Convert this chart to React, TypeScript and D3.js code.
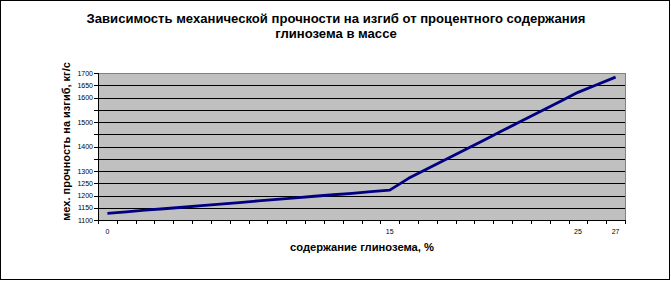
import React from "react";
import * as d3 from "d3";

const title1 = "Зависимость механической прочности на изгиб от процентного содержания";
const title2 = "глинозема в массе";
const yTitle = "мех. прочность на изгиб, кг/с";
const xTitle = "содержание глинозема, %";

const categories = [0, 1, 2, 3, 4, 5, 6, 7, 8, 9, 10, 11, 12, 13, 14, 15, 16, 17, 18, 19, 20, 21, 22, 23, 24, 25, 26, 27];
const values = [1127, 1133, 1140, 1146, 1152, 1159, 1165, 1171, 1178, 1184, 1190, 1197, 1203, 1209, 1216, 1222, 1270, 1309, 1348, 1387, 1426, 1465, 1504, 1543, 1582, 1621, 1652, 1683];
const xTickLabels = [0, 15, 25, 27];
const yGridValues = [1100, 1150, 1200, 1250, 1300, 1350, 1400, 1450, 1500, 1550, 1600, 1650, 1700];
const yTickLabels = [1100, 1150, 1200, 1250, 1300, 1400, 1500, 1600, 1650, 1700];

const W = 671;
const H = 281;
const L = 98;
const R = 625;
const T = 73;
const B = 220;

export default function App() {
  const x = d3.scaleBand<number>().domain(categories).range([L, R]).padding(0);
  const y = d3.scaleLinear().domain([1100, 1700]).range([B, T]);
  const bw = x.bandwidth();
  const cx = (c: number) => (x(c) as number) + bw / 2;
  const line = d3
    .line<number>()
    .x((_, i) => cx(categories[i]))
    .y((v) => y(v));
  const snap = (v: number) => Math.round(v) + 0.5;
  const font = "'Liberation Sans', Arial, sans-serif";
  const boundaries = categories.map((c) => x(c) as number).concat([R]);

  return (
    <svg width={W} height={H} style={{ position: "absolute", left: 0, top: 0 }} fontFamily={font}>
      <rect x={0} y={0} width={W} height={H} fill="#fff" />
      <rect x={0.5} y={0.5} width={669} height={279} fill="none" stroke="#000" strokeWidth={1} />
      <text x={336} y={23} textAnchor="middle" fontSize={13.1} fontWeight="bold">{title1}</text>
      <text x={336} y={38} textAnchor="middle" fontSize={13.1} fontWeight="bold">{title2}</text>

      <rect x={L} y={T} width={R - L} height={B - T} fill="#C0C0C0" stroke="#808080" strokeWidth={1} shapeRendering="crispEdges" />
      {yGridValues.filter((v) => v > 1100 && v < 1700).map((v) => (
        <line key={"g" + v} x1={L} x2={R} y1={snap(y(v))} y2={snap(y(v))} stroke="#000" strokeWidth={1} shapeRendering="crispEdges" />
      ))}
      <line x1={L + 0.5} x2={L + 0.5} y1={T} y2={B + 0.5} stroke="#000" shapeRendering="crispEdges" />
      <line x1={L} x2={R + 0.5} y1={B + 0.5} y2={B + 0.5} stroke="#000" shapeRendering="crispEdges" />
      {yGridValues.map((v) => (
        <line key={"yt" + v} x1={L - 4} x2={L} y1={snap(y(v))} y2={snap(y(v))} stroke="#000" shapeRendering="crispEdges" />
      ))}
      {yTickLabels.map((v) => (
        <text key={"yl" + v} x={93} y={y(v) + 2.5} textAnchor="end" fontSize={7}>{v}</text>
      ))}
      {boundaries.map((bx, i) => (
        <line key={"xt" + i} x1={snap(bx)} x2={snap(bx)} y1={B} y2={B + 4} stroke="#000" shapeRendering="crispEdges" />
      ))}
      {xTickLabels.map((c) => (
        <text key={"xl" + c} x={cx(c)} y={234} textAnchor="middle" fontSize={7}>{c}</text>
      ))}

      <path d={line(values) || ""} fill="none" stroke="#000080" strokeWidth={2.8} strokeLinejoin="round" />

      <text x={362} y={251} textAnchor="middle" fontSize={11.2} fontWeight="bold">{xTitle}</text>
      <text transform="translate(69.5,141.5) rotate(-90)" textAnchor="middle" fontSize={11} fontWeight="bold">{yTitle}</text>
    </svg>
  );
}
